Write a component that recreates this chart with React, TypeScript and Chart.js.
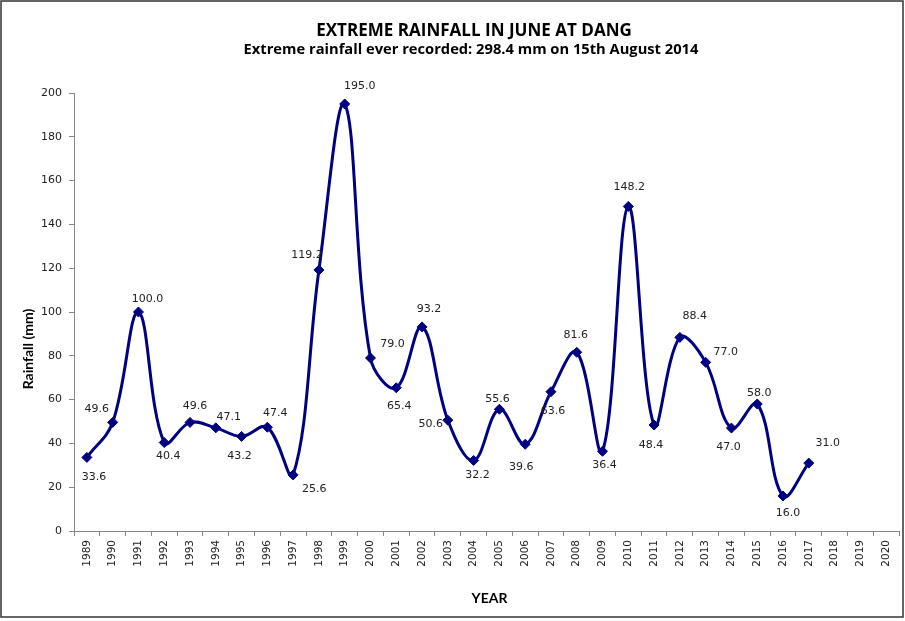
import React, { useEffect, useRef } from "react";
import { Chart, registerables } from "chart.js";

Chart.register(...registerables);

const years: string[] = [
  "1989", "1990", "1991", "1992", "1993", "1994", "1995", "1996", "1997", "1998",
  "1999", "2000", "2001", "2002", "2003", "2004", "2005", "2006", "2007", "2008",
  "2009", "2010", "2011", "2012", "2013", "2014", "2015", "2016", "2017", "2018",
  "2019", "2020",
];

const rainfall: (number | null)[] = [
  33.6, 49.6, 100.0, 40.4, 49.6, 47.1, 43.2, 47.4, 25.6, 119.2,
  195.0, 79.0, 65.4, 93.2, 50.6, 32.2, 55.6, 39.6, 63.6, 81.6,
  36.4, 148.2, 48.4, 88.4, 77.0, 47.0, 58.0, 16.0, 31.0, null,
  null, null,
];

const yMin = 0;
const yMax = 200;
const yStep = 20;

const titleText = "EXTREME RAINFALL IN JUNE AT DANG";
const subtitleText = "Extreme rainfall ever recorded: 298.4 mm on 15th August 2014";
const yTitle = "Rainfall (mm)";
const xTitle = "YEAR";

// label placement relative to each point (dx, dy) in px
const labelOffsets: [number, number][] = [
  [7, 20], [-16, -13], [9, -13], [4, 14], [5, -16], [13, -11], [-2, 20], [8, -14], [21, 14], [-12, -15],
  [15, -18], [22, -14], [3, 18], [7, -18], [-17, 4], [4, 15], [-2, -10], [-4, 23], [2, 19], [-1, -17],
  [2, 14], [1, -19], [-3, 20], [15, -21], [20, -10], [-3, 19], [2, -11], [5, 17], [19, -20],
];

function fitText(ctx: CanvasRenderingContext2D, text: string, family: string, targetWidth: number) {
  ctx.font = `bold 20px ${family}`;
  const w = ctx.measureText(text).width;
  const size = (20 * targetWidth) / w;
  ctx.font = `bold ${size.toFixed(2)}px ${family}`;
}

const decorPlugin = {
  id: "decor",
  beforeDraw(chart: any) {
    const ctx = chart.ctx;
    ctx.save();
    ctx.fillStyle = "#ffffff";
    ctx.fillRect(0, 0, chart.width, chart.height);
    ctx.restore();
  },
  afterDatasetsDraw(chart: any) {
    const ctx = chart.ctx;
    const meta = chart.getDatasetMeta(0);
    ctx.save();
    ctx.font = "11px 'DejaVu Sans'";
    ctx.fillStyle = "#222222";
    ctx.textAlign = "center";
    ctx.textBaseline = "middle";
    meta.data.forEach((pt: any, i: number) => {
      const v = rainfall[i];
      if (v === null || v === undefined) return;
      const off = labelOffsets[i] || [0, -14];
      ctx.fillText(v.toFixed(1), pt.x + off[0], pt.y + off[1]);
    });
    ctx.restore();
  },
  afterDraw(chart: any) {
    const ctx = chart.ctx;
    const area = chart.chartArea;
    ctx.save();
    ctx.fillStyle = "#000000";
    ctx.textAlign = "center";
    ctx.textBaseline = "middle";
    fitText(ctx, titleText, "'Open Sans'", 316);
    ctx.fillText(titleText, 474, 31);
    fitText(ctx, subtitleText, "'Open Sans'", 455);
    ctx.fillText(subtitleText, 471, 50);
    ctx.font = "bold 14px Lato";
    ctx.fillText(xTitle, (area.left + area.right) / 2 + 3, 598);
    ctx.translate(28, 349);
    ctx.rotate(-Math.PI / 2);
    ctx.fillText(yTitle, 0, 0);
    ctx.restore();

    ctx.save();
    ctx.strokeStyle = "#333333";
    ctx.lineWidth = 1.5;
    ctx.strokeRect(1, 1, 902, 616);
    ctx.restore();
  },
};

export default function App() {
  const canvasRef = useRef<HTMLCanvasElement | null>(null);

  useEffect(() => {
    if (!canvasRef.current) return;
    const chart = new Chart(canvasRef.current, {
      type: "line",
      data: {
        labels: years,
        datasets: [
          {
            data: rainfall,
            borderColor: "#000080",
            backgroundColor: "#000080",
            borderWidth: 3,
            tension: 0.38,
            pointStyle: "rectRot",
            pointRadius: 5,
            pointBorderWidth: 1,
            pointBackgroundColor: "#000080",
            pointBorderColor: "#000080",
            fill: false,
          },
        ],
      },
      options: {
        responsive: false,
        animation: false,
        layout: { padding: { top: 93, right: 6, left: 0, bottom: 0 } },
        plugins: {
          legend: { display: false },
          title: { display: false },
          tooltip: { enabled: false },
        },
        scales: {
          x: {
            type: "category",
            offset: true,
            grid: {
              offset: true,
              drawOnChartArea: false,
              drawTicks: true,
              tickLength: 5,
              color: "#868686",
            },
            border: { display: true, color: "#868686", width: 1 },
            ticks: {
              autoSkip: false,
              minRotation: 90,
              maxRotation: 90,
              padding: 4,
              color: "#222222",
              font: { family: "'DejaVu Sans'", size: 10.5 },
            },
            afterFit: (s: any) => {
              s.height = 90;
            },
          },
          y: {
            min: yMin,
            max: yMax,
            grid: {
              drawOnChartArea: false,
              drawTicks: true,
              tickLength: 5,
              color: "#868686",
            },
            border: { display: true, color: "#868686", width: 1 },
            ticks: {
              stepSize: yStep,
              padding: 7,
              color: "#222222",
              font: { family: "'DejaVu Sans'", size: 11 },
            },
            afterFit: (s: any) => {
              s.width = 74;
            },
          },
        },
      },
      plugins: [decorPlugin],
    });
    return () => chart.destroy();
  }, []);

  return (
    <div style={{ position: "fixed", left: 0, top: 0, width: 905, height: 621, background: "#fff" }}>
      <canvas ref={canvasRef} width={905} height={621} style={{ display: "block" }} />
    </div>
  );
}
